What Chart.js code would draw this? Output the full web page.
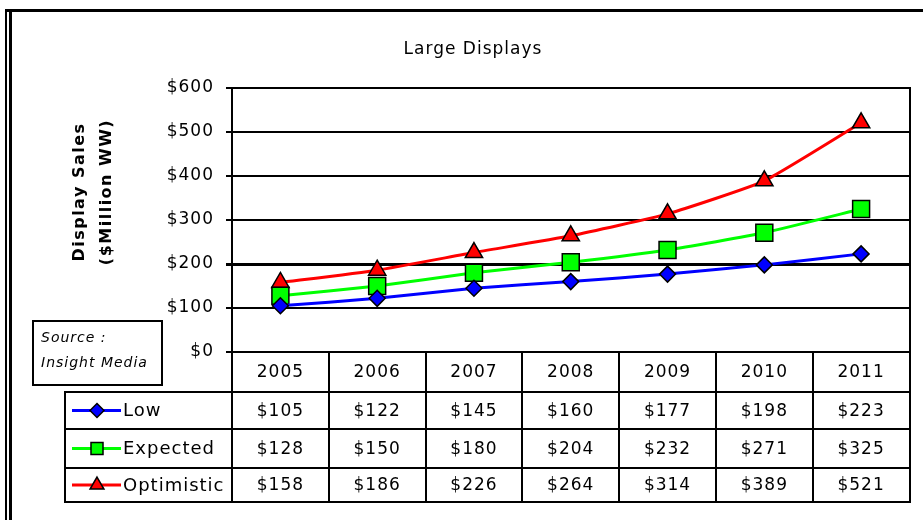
<!DOCTYPE html>
<html><head><meta charset="utf-8">
<script src="https://cdn.jsdelivr.net/npm/chart.js@4"></script>
<style>html,body{margin:0;padding:0;background:#fff;}canvas{display:block;}</style>
</head><body>
<canvas id="c" width="923" height="520"></canvas>
<script>
const years = ['2005','2006','2007','2008','2009','2010','2011'];
const lowValues = [105,122,145,160,177,198,223];
const expectedValues = [128,150,180,204,232,271,325];
const optimisticValues = [158,186,226,264,314,389,521];
const seriesNames = ['Low','Expected','Optimistic'];
const yMin = 0, yMax = 600, yStep = 100;
const chartTitle = 'Large Displays';
const yTitleLines = ['Display Sales','($Million WW)'];
const sourceLines = ['Source :','Insight Media'];

const FONT = '"DejaVu Sans", "Liberation Sans", Arial, sans-serif';
const series = [
  {name: seriesNames[0], data: lowValues, color: '#0000ff', style: 'rectRot', radius: 8, legendRadius: 7},
  {name: seriesNames[1], data: expectedValues, color: '#00ff00', style: 'rect', radius: 12, legendRadius: 8.5},
  {name: seriesNames[2], data: optimisticValues, color: '#ff0000', style: 'triangle', radius: 10, legendRadius: 8}
];
const money = v => '$' + v;

const spacingPlugin = {
  id: 'spacing',
  beforeDraw(chart) { chart.ctx.letterSpacing = '1px'; }
};

const decorPlugin = {
  id: 'decor',
  afterDraw(chart) {
    const {ctx, chartArea: a, scales: {x}} = chart;
    const n = years.length;
    const colW = a.width / n;
    const rowY = [a.bottom, a.bottom + 40, a.bottom + 77, a.bottom + 116, a.bottom + 150];
    const legendLeft = 65;
    ctx.save();
    ctx.letterSpacing = '1px';
    ctx.fillStyle = '#000';
    // outer frame
    ctx.fillRect(5, 9, 918, 3);
    ctx.fillRect(5, 9, 2, 511);
    ctx.fillRect(9, 9, 3, 511);
    ctx.strokeStyle = '#000';
    ctx.lineWidth = 2;
    ctx.beginPath();
    const rx = Math.round(a.right);
    ctx.moveTo(rx, a.top - 1); ctx.lineTo(rx, rowY[4] + 1);
    for (let i = 0; i < n; i++) {
      const xb = Math.round(a.left + i * colW);
      ctx.moveTo(xb, rowY[0]); ctx.lineTo(xb, rowY[4] + 1);
    }
    ctx.moveTo(legendLeft, rowY[1] - 1); ctx.lineTo(legendLeft, rowY[4] + 1);
    for (let r = 1; r <= 4; r++) {
      ctx.moveTo(legendLeft - 1, rowY[r]); ctx.lineTo(rx + 1, rowY[r]);
    }
    ctx.stroke();

    // header & values
    ctx.fillStyle = '#000';
    ctx.textAlign = 'center';
    ctx.textBaseline = 'middle';
    ctx.font = '17px ' + FONT;
    years.forEach((yr, i) => {
      const cx = x.getPixelForValue(i);
      ctx.fillText(yr, cx, (rowY[0] + rowY[1]) / 2 + 1);
      series.forEach((s, r) => {
        ctx.fillText(money(s.data[i]), cx, (rowY[r + 1] + rowY[r + 2]) / 2 + 1);
      });
    });
    // legend keys
    series.forEach((s, r) => {
      const cy = (rowY[r + 1] + rowY[r + 2]) / 2;
      ctx.strokeStyle = s.color;
      ctx.lineWidth = 3;
      ctx.beginPath(); ctx.moveTo(72, cy); ctx.lineTo(121, cy); ctx.stroke();
      ctx.fillStyle = s.color;
      ctx.strokeStyle = '#000';
      ctx.lineWidth = 1.5;
      Chart.helpers.drawPoint(ctx, {pointStyle: s.style, radius: s.legendRadius, rotation: 0, borderWidth: 1.5}, 97, cy);
      ctx.fillStyle = '#000';
      ctx.textAlign = 'left';
      ctx.font = '18px ' + FONT;
      ctx.fillText(s.name, 123, cy + 1);
    });

    // title
    ctx.textAlign = 'center';
    ctx.font = '17px ' + FONT;
    ctx.fillText(chartTitle, 473, 50);

    // y axis title
    ctx.font = 'bold 16px ' + FONT;
    ctx.letterSpacing = '1.5px';
    [80, 107].forEach((lx, i) => {
      ctx.save();
      ctx.translate(lx, 192);
      ctx.rotate(-Math.PI / 2);
      ctx.fillText(yTitleLines[i], 0, 0);
      ctx.restore();
    });

    // source box
    ctx.letterSpacing = '1px';
    ctx.strokeStyle = '#000';
    ctx.lineWidth = 2;
    ctx.strokeRect(33, 321, 129, 64);
    ctx.textAlign = 'left';
    ctx.font = 'italic 14px ' + FONT;
    ctx.fillText(sourceLines[0], 41, 338);
    ctx.fillText(sourceLines[1], 41, 363);
    ctx.restore();
  }
};

new Chart(document.getElementById('c'), {
  type: 'line',
  data: {
    labels: years,
    datasets: series.map(s => ({
      label: s.name,
      data: s.data,
      borderColor: s.color,
      backgroundColor: s.color,
      borderWidth: 3,
      tension: 0.15,
      pointStyle: s.style,
      pointRadius: s.radius,
      pointBackgroundColor: s.color,
      pointBorderColor: '#000',
      pointBorderWidth: 1.5
    }))
  },
  options: {
    responsive: false,
    animation: false,
    devicePixelRatio: 1,
    layout: {padding: {left: 0, right: 8, top: 88, bottom: 168}},
    plugins: {legend: {display: false}, title: {display: false}, tooltip: {enabled: false}},
    scales: {
      x: {type: 'category', display: false, offset: true},
      y: {
        min: yMin, max: yMax,
        afterFit: sc => { sc.width = 232; },
        ticks: {stepSize: yStep, callback: v => money(v), color: '#000', font: {size: 17, family: FONT}, padding: 12},
        grid: {color: '#000', lineWidth: c => (c.tick && c.tick.value === 200 ? 3 : 2), tickLength: 6},
        border: {display: true, color: '#000', width: 2}
      }
    }
  },
  plugins: [spacingPlugin, decorPlugin]
});
</script>
</body></html>
